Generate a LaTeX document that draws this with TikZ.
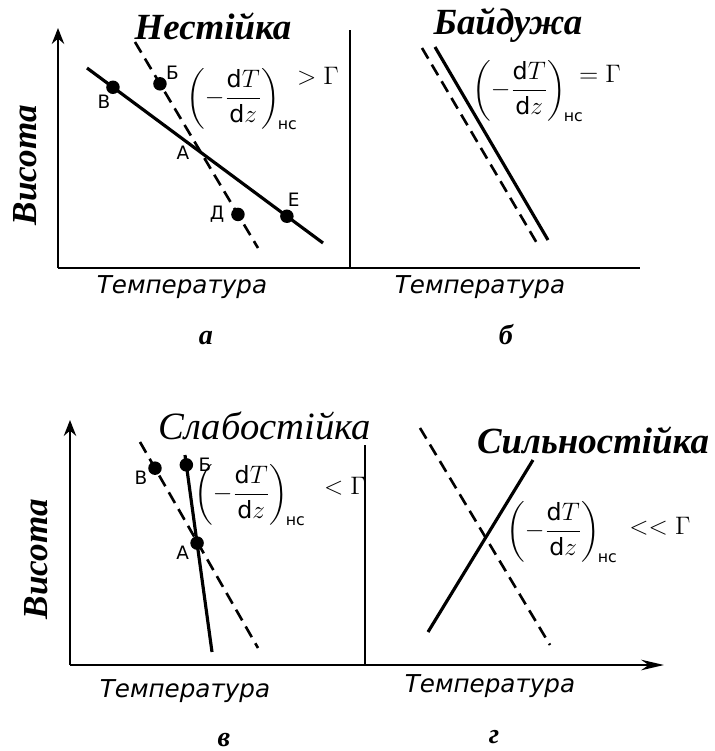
\documentclass[tikz,border=0pt]{standalone}
\usepackage{amsmath}
\usepackage{fontspec}
\setmainfont{Liberation Serif}
\setsansfont{DejaVu Sans}
\usetikzlibrary{arrows.meta,positioning}
\tikzset{
    axis/.style={
        line width=1.4pt,
        -{Stealth[length=9pt,width=7pt]}
    },
    longaxis/.style={
        line width=1.4pt,
        -{Stealth[length=13pt,width=6pt]}
    },
    frame/.style={
        line width=1.3pt
    },
    profile/.style={
        line width=1.8pt
    },
    adiabat/.style={
        line width=1.5pt,
        dash pattern=on 7pt off 4pt
    },
    parcel/.style={
        circle,
        fill=black,
        inner sep=0pt,
        minimum size=0.27cm
    },
    paneltitle/.style={
        inner sep=0pt,
        font=\fontsize{21}{23}\selectfont\bfseries\itshape
    },
    paneltitlelight/.style={
        inner sep=0pt,
        font=\fontsize{22}{24}\selectfont\itshape
    },
    heightlabel/.style={
        rotate=90,
        font=\fontsize{20}{22}\selectfont\bfseries\itshape
    },
    templabel/.style={
        font=\fontsize{14}{16}\selectfont\sffamily\itshape
    },
    ptlabel/.style={
        font=\fontsize{10.5}{12}\selectfont\sffamily,
        inner sep=1pt
    },
    formula/.style={
        font=\fontsize{13.5}{15}\selectfont,
        inner sep=0pt
    },
    relation/.style={
        font=\fontsize{14}{16}\selectfont,
        inner sep=0pt
    },
    panelletter/.style={
        font=\fontsize{16}{18}\selectfont\bfseries\itshape
    }
}
\newcommand{\lapse}{$\biggl(-\dfrac{\mathsf{d}T}{\mathsf{d}z}\biggr)_{\!\textsf{\small нс}}$}

\begin{document}
\begin{tikzpicture}[x=0.02cm, y=-0.02cm, node distance=1pt]
    \useasboundingbox (0,0) rectangle (715,751);

    % а, б
    \coordinate (topO) at (58,268);
    \coordinate (topY) at (58,28);
    \coordinate (topX) at (640,268);
    \coordinate (topD1) at (350,30);
    \coordinate (topD2) at (350,268);
    \draw[axis] (topO) -- (topY);
    \draw[frame] (topO) -- (topX);
    \draw[frame] (topD2) -- (topD1);

    \node[heightlabel] (topH) at (25,165) {Висота};
    \node[templabel] (tempA) at (182,287) {Температура};
    \node[templabel] (tempB) at (480,287) {Температура};
    \node[panelletter] (letA) at (206,338) {а};
    \node[panelletter] (letB) at (506,335) {б};

    \node[paneltitle] (titleA) at (213,26) {Нестійка};
    \coordinate (aS1) at (87,68);
    \coordinate (aS2) at (323,243);
    \coordinate (aD1) at (135,42);
    \coordinate (aD2) at (258,248);
    \draw[profile] (aS1) -- node[parcel, pos=0.11] (aV) {} node[parcel, pos=0.847] (aE) {} (aS2);
    \draw[adiabat] (aD1) -- node[parcel, pos=0.203] (aB) {} node[parcel, pos=0.837] (aDd) {} (aD2);
    \node[ptlabel, below left=0pt and -3pt of aV] (lV) {В};
    \node[ptlabel, above right=-2pt and -1pt of aB] (lB) {Б};
    \node[ptlabel] (lA) at (183,153) {А};
    \node[ptlabel, left=2pt of aDd] (lD) {Д};
    \node[ptlabel, above right=1pt and -4pt of aE] (lE) {Е};
    \node[formula] (fA) at (242,99) {\lapse};
    \node[relation] (rA) at (318,76) {$>\Gamma$};

    \node[paneltitle] (titleB) at (508,25) {Байдужа};
    \coordinate (bS1) at (435,47);
    \coordinate (bS2) at (548,240);
    \coordinate (bD1) at (422,48);
    \coordinate (bD2) at (538,245);
    \draw[profile] (bS1) -- (bS2);
    \draw[adiabat] (bD1) -- (bD2);
    \node[formula] (fB) at (528,91) {\lapse};
    \node[relation] (rB) at (600,74) {$=\Gamma$};

    % в, г
    \coordinate (botO) at (70,665);
    \coordinate (botY) at (70,420);
    \coordinate (botX) at (664,665);
    \coordinate (botD1) at (365,445);
    \coordinate (botD2) at (365,665);
    \draw[axis] (botO) -- (botY);
    \draw[longaxis] (botO) -- (botX);
    \draw[frame] (botD2) -- (botD1);

    \node[heightlabel] (botH) at (36,559) {Висота};
    \node[templabel] (tempC) at (185,691) {Температура};
    \node[templabel] (tempD) at (490,686) {Температура};
    \node[panelletter] (letC) at (224,740) {в};
    \node[panelletter] (letD) at (494,737) {г};

    \node[paneltitlelight] (titleC) at (265,426) {Слабостійка};
    \coordinate (cD1) at (140,442);
    \coordinate (cD2) at (258,648);
    \coordinate (cS1) at (185,455);
    \coordinate (cS2) at (212,652);
    \draw[adiabat] (cD1) -- node[parcel, pos=0.127] (cV) {} (cD2);
    \draw[profile] (cS1) -- node[parcel, pos=0.05] (cB) {} node[parcel, pos=0.447] (cA) {} (cS2);
    \node[ptlabel, below left=-3pt and 0pt of cV] (lcV) {В};
    \node[ptlabel, right=1pt of cB] (lcB) {Б};
    \node[ptlabel, below left=-3pt and 0pt of cA] (lcA) {А};
    \node[formula] (fC) at (250,495) {\lapse};
    \node[relation] (rC) at (345,486) {$<\Gamma$};

    \node[paneltitle] (titleD) at (593,440) {Сильностійка};
    \coordinate (dD1) at (420,428);
    \coordinate (dD2) at (550,645);
    \coordinate (dS1) at (428,632);
    \coordinate (dS2) at (533,460);
    \draw[adiabat] (dD1) -- (dD2);
    \draw[profile] (dS1) -- (dS2);
    \node[formula] (fD) at (562,532) {\lapse};
    \node[relation] (rD) at (660,526) {$<<\Gamma$};
\end{tikzpicture}
\end{document}
